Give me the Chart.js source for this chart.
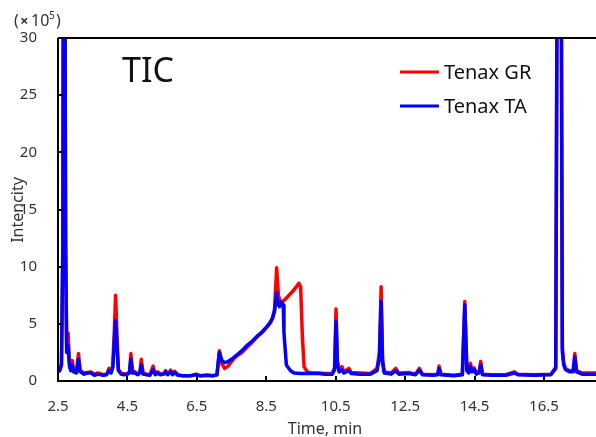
<!DOCTYPE html>
<html>
<head>
<meta charset="utf-8">
<script src="https://cdn.jsdelivr.net/npm/chart.js@4"></script>
<style>
  html, body { margin: 0; padding: 0; background: #fff; }
  #wrap { width: 596px; height: 437px; }
</style>
</head>
<body>
<div id="wrap"><canvas id="tic"></canvas></div>
<script>
// tick labels
const xTicks = [2.5, 4.5, 6.5, 8.5, 10.5, 12.5, 14.5, 16.5];
const yTicks = [0, 5, 10, 15, 20, 25, 30];

// Tenax GR (red) - time (min) / intensity (x10^5)
const grTimes = [2.50, 2.55, 2.60, 2.64, 2.66, 2.69, 2.72, 2.75, 2.79, 2.83, 2.87, 2.91, 2.95, 3.03, 3.09, 3.14,
  3.25, 3.35, 3.45, 3.55, 3.65, 3.80, 3.90, 3.97, 4.03, 4.08, 4.13, 4.16, 4.20, 4.24, 4.32, 4.40, 4.50,
  4.56, 4.60, 4.65, 4.72, 4.80, 4.86, 4.90, 4.95, 5.05, 5.15, 5.24, 5.30, 5.37, 5.45, 5.55, 5.60, 5.66,
  5.75, 5.80, 5.86, 5.95, 6.10, 6.30, 6.48, 6.60, 6.80, 6.95, 7.08, 7.15, 7.22, 7.30, 7.40, 7.50, 7.58,
  7.70, 7.80, 7.96, 8.10, 8.25, 8.40, 8.53, 8.62, 8.68, 8.74, 8.80, 8.85, 8.92, 9.06, 9.25, 9.38, 9.44,
  9.49, 9.54, 9.59, 9.68, 9.80, 10.00, 10.20, 10.40, 10.47, 10.51, 10.55, 10.60, 10.68, 10.74, 10.88,
  10.95, 11.20, 11.50, 11.69, 11.76, 11.81, 11.85, 11.90, 12.10, 12.23, 12.32, 12.60, 12.80, 12.91,
  13.00, 13.30, 13.44, 13.48, 13.53, 13.90, 14.15, 14.22, 14.28, 14.33, 14.38, 14.43, 14.49, 14.55,
  14.63, 14.68, 14.73, 15.00, 15.40, 15.65, 15.75, 16.20, 16.70, 16.84, 16.89, 16.93, 16.99, 17.03,
  17.07, 17.12, 17.24, 17.34, 17.39, 17.44, 17.60, 18.00];
const grValues = [0.9, 1.0, 1.5, 12, 45, 45, 12, 3.0, 4.2, 1.6, 1.1, 1.8, 0.9, 0.8, 2.4, 0.9,
  0.7, 0.75, 0.8, 0.6, 0.7, 0.55, 0.6, 1.1, 0.8, 1.4, 5.0, 7.5, 4.0, 1.0, 0.7, 0.6, 0.65,
  0.8, 2.4, 0.8, 0.8, 0.6, 0.8, 1.9, 0.7, 0.6, 0.55, 1.3, 0.6, 0.8, 0.6, 0.65, 0.9, 0.6,
  0.95, 0.6, 0.85, 0.55, 0.45, 0.45, 0.6, 0.45, 0.5, 0.45, 0.55, 2.65, 1.5, 1.1, 1.3, 1.7, 2.0,
  2.3, 2.5, 3.0, 3.4, 3.9, 4.3, 4.75, 5.1, 5.5, 6.3, 9.9, 7.5, 6.8, 7.2, 7.8, 8.3, 8.55,
  8.25, 3.9, 1.25, 0.8, 0.7, 0.7, 0.65, 0.65, 1.2, 6.3, 1.8, 0.9, 1.25, 0.8, 1.1,
  0.75, 0.7, 0.65, 1.1, 2.5, 8.25, 2.0, 0.8, 0.7, 1.1, 0.7, 0.75, 0.6, 1.1,
  0.6, 0.55, 0.6, 1.3, 0.6, 0.5, 0.6, 6.95, 1.0, 0.8, 1.55, 0.9, 1.15, 0.7,
  0.8, 1.7, 0.6, 0.55, 0.55, 0.8, 0.6, 0.55, 0.6, 1.2, 45, 45, 45, 3.0,
  1.6, 1.1, 0.9, 0.9, 2.4, 0.9, 0.7, 0.7];

// Tenax TA (blue)
const taTimes = [2.50, 2.55, 2.60, 2.64, 2.66, 2.69, 2.72, 2.75, 2.79, 2.83, 2.87, 2.91, 2.95, 3.03, 3.09, 3.14,
  3.25, 3.35, 3.45, 3.55, 3.65, 3.80, 3.90, 3.97, 4.03, 4.08, 4.13, 4.16, 4.20, 4.24, 4.32, 4.40, 4.50,
  4.56, 4.60, 4.65, 4.72, 4.80, 4.86, 4.90, 4.95, 5.05, 5.15, 5.24, 5.30, 5.37, 5.45, 5.55, 5.60, 5.66,
  5.75, 5.80, 5.86, 5.95, 6.10, 6.30, 6.48, 6.60, 6.80, 6.95, 7.08, 7.15, 7.22, 7.30, 7.40, 7.50, 7.58,
  7.70, 7.80, 7.96, 8.10, 8.25, 8.40, 8.53, 8.62, 8.68, 8.74, 8.80, 8.84, 8.88, 8.94, 8.99, 9.01, 9.08,
  9.20, 9.30, 9.50, 9.80, 10.00, 10.20, 10.40, 10.47, 10.51, 10.55, 10.60, 10.68, 10.74, 10.88,
  10.95, 11.20, 11.50, 11.69, 11.76, 11.81, 11.85, 11.90, 12.10, 12.23, 12.32, 12.60, 12.80, 12.91,
  13.00, 13.30, 13.44, 13.48, 13.53, 13.90, 14.15, 14.22, 14.28, 14.33, 14.38, 14.43, 14.49, 14.55,
  14.63, 14.68, 14.73, 15.00, 15.40, 15.65, 15.75, 16.20, 16.70, 16.84, 16.89, 16.93, 16.99, 17.03,
  17.07, 17.12, 17.24, 17.34, 17.39, 17.44, 17.60, 18.00];
const taValues = [0.8, 0.9, 1.4, 12, 45, 45, 12, 2.5, 3.1, 1.3, 0.9, 1.4, 0.8, 0.7, 1.9, 0.8,
  0.6, 0.7, 0.7, 0.5, 0.6, 0.5, 0.55, 0.9, 0.7, 1.2, 3.8, 5.3, 3.0, 0.9, 0.6, 0.55, 0.6,
  0.7, 1.9, 0.7, 0.7, 0.55, 0.7, 1.4, 0.6, 0.55, 0.5, 1.0, 0.55, 0.7, 0.55, 0.6, 0.8, 0.55,
  0.8, 0.55, 0.75, 0.5, 0.45, 0.45, 0.55, 0.45, 0.5, 0.45, 0.55, 2.5, 1.8, 1.6, 1.7, 1.9, 2.1,
  2.4, 2.65, 3.15, 3.5, 3.95, 4.35, 4.8, 5.15, 5.5, 6.1, 7.75, 6.7, 6.5, 6.9, 6.65, 4.2, 1.4,
  0.9, 0.7, 0.65, 0.65, 0.65, 0.6, 0.6, 1.0, 5.2, 1.5, 0.8, 1.0, 0.7, 0.9,
  0.65, 0.6, 0.6, 0.9, 2.0, 6.95, 1.6, 0.7, 0.6, 0.9, 0.6, 0.65, 0.55, 0.95,
  0.55, 0.5, 0.55, 1.1, 0.55, 0.45, 0.55, 6.65, 0.9, 0.7, 1.3, 0.8, 1.0, 0.6,
  0.7, 1.4, 0.55, 0.5, 0.5, 0.7, 0.55, 0.5, 0.55, 1.1, 45, 45, 45, 2.6,
  1.4, 1.0, 0.8, 0.8, 2.1, 0.8, 0.6, 0.6];

const seriesLabels = ["Tenax GR", "Tenax TA"];

const toPoints = (ts, vs) => ts.map((t, i) => ({ x: t, y: vs[i] }));

const FONT = "'Noto Sans', sans-serif";
const TEXT = "#333";

// frame, inside ticks, titles and legend
const decor = {
  id: "decor",
  afterDraw(chart) {
    const { ctx, chartArea: a, scales } = chart;
    ctx.save();
    ctx.strokeStyle = "#000";
    ctx.lineWidth = 2;
    ctx.beginPath();
    ctx.moveTo(a.left, a.top); ctx.lineTo(a.left, a.bottom); ctx.lineTo(a.right, a.bottom);
    ctx.moveTo(a.left, a.top); ctx.lineTo(a.right, a.top);
    yTicks.forEach(v => {
      const py = Math.round(scales.y.getPixelForValue(v));
      ctx.moveTo(a.left, py); ctx.lineTo(a.left + 5, py);
    });
    xTicks.forEach(v => {
      const px = Math.round(scales.x.getPixelForValue(v));
      ctx.moveTo(px, a.bottom); ctx.lineTo(px, a.bottom - 5);
    });
    ctx.stroke();

    ctx.fillStyle = TEXT;
    ctx.textBaseline = "alphabetic";
    // multiplier
    ctx.font = "16px " + FONT;
    ctx.textAlign = "left";
    ctx.fillText("(", 14, 26);
    ctx.font = "bold 15px " + FONT;
    ctx.fillText("×", 20, 26);
    ctx.font = "16px " + FONT;
    ctx.fillText("10", 31, 26);
    ctx.font = "10px " + FONT;
    ctx.fillText("5", 49, 19);
    ctx.font = "16px " + FONT;
    ctx.fillText(")", 56, 26);

    // axis titles
    ctx.font = "16px " + FONT;
    ctx.textAlign = "center";
    ctx.textBaseline = "middle";
    ctx.fillText("Time, min", 325, 429);
    ctx.save();
    ctx.translate(18, 210);
    ctx.rotate(-Math.PI / 2);
    ctx.fillText("Intencity", 0, 0);
    ctx.restore();

    // TIC label
    ctx.fillStyle = "#111";
    ctx.font = "34px " + FONT;
    ctx.textAlign = "left";
    ctx.textBaseline = "alphabetic";
    ctx.fillText("TIC", 122, 82);

    // legend
    const rows = [72, 106];
    chart.data.datasets.forEach((ds, i) => {
      ctx.strokeStyle = ds.borderColor;
      ctx.lineWidth = 3;
      ctx.beginPath();
      ctx.moveTo(400, rows[i]); ctx.lineTo(439, rows[i]);
      ctx.stroke();
      ctx.fillStyle = "#111";
      ctx.font = "20px " + FONT;
      ctx.textBaseline = "middle";
      ctx.fillText(ds.label, 444, rows[i] + 1);
    });
    ctx.restore();
  }
};

new Chart(document.getElementById("tic"), {
  type: "line",
  data: {
    datasets: [
      { label: seriesLabels[0], data: toPoints(grTimes, grValues), borderColor: "#ff0000", order: 1 },
      { label: seriesLabels[1], data: toPoints(taTimes, taValues), borderColor: "#0000ff", order: 0 }
    ]
  },
  options: {
    responsive: true,
    maintainAspectRatio: false,
    animation: false,
    events: [],
    layout: { padding: { top: 38, right: 0, left: 0, bottom: 0 } },
    elements: {
      point: { radius: 0 },
      line: { borderWidth: 3.5, tension: 0, borderJoinStyle: "round", borderCapStyle: "round" }
    },
    plugins: { legend: { display: false }, tooltip: { enabled: false } },
    scales: {
      x: {
        type: "linear",
        min: 2.5,
        max: 18,
        grid: { display: false },
        border: { display: false },
        afterBuildTicks: s => { s.ticks = xTicks.map(v => ({ value: v })); },
        afterFit: s => { s.height = 56; },
        ticks: {
          padding: 9,
          maxRotation: 0,
          autoSkip: false,
          color: TEXT,
          font: { family: FONT, size: 15 },
          callback: v => v.toFixed(1)
        }
      },
      y: {
        min: 0,
        max: 30,
        grid: { display: false },
        border: { display: false },
        afterBuildTicks: s => { s.ticks = yTicks.map(v => ({ value: v })); },
        afterFit: s => { s.width = 58; },
        ticks: {
          padding: 13,
          color: TEXT,
          font: { family: FONT, size: 15 }
        }
      }
    }
  },
  plugins: [decor]
});
</script>
</body>
</html>
